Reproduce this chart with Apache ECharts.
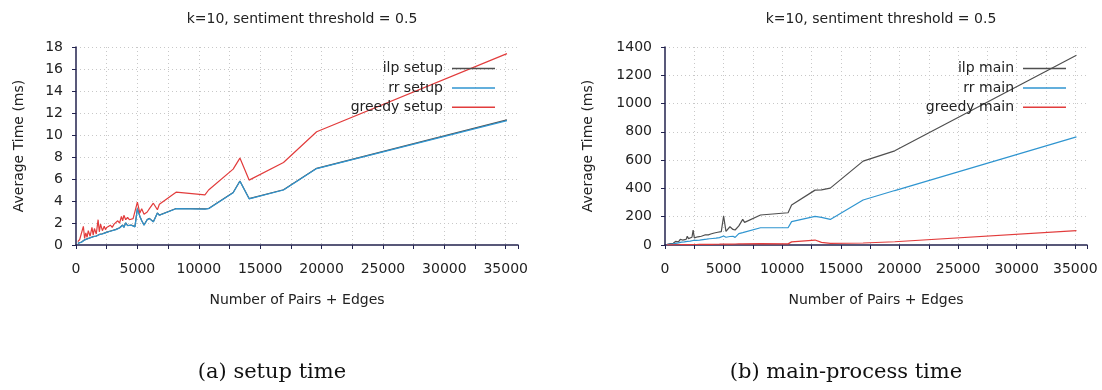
<!DOCTYPE html>
<html>
<head>
<meta charset="utf-8">
<script src="https://cdn.jsdelivr.net/npm/echarts@6/dist/echarts.min.js"></script>
<style>
  html, body { margin: 0; padding: 0; background: #ffffff; }
  #chart { width: 1102px; height: 390px; }
</style>
</head>
<body>
<div id="chart"></div>
<script>
// number of pairs + edges (shared by both panels)
const pairsEdges = [150, 300, 450, 600, 700, 800, 900, 1000, 1150, 1300,
  1400, 1500, 1650, 1800, 1900, 2000, 2150, 2300, 2400, 2500,
  2650, 2800, 2950, 3100, 3250, 3400, 3550, 3700, 3800, 3900,
  4050, 4200, 4350, 4500, 4650, 4800, 5000, 5200, 5350, 5540,
  5800, 5980, 6300, 6630, 6790, 8150, 10500, 10800, 12800, 13350,
  14100, 16900, 19600, 35100]

// (a) setup time, ms
const ilpSetup = [0.16, 0.31, 0.27, 0.41, 0.47, 0.36, 0.56, 0.52, 0.66, 0.57,
  0.76, 0.72, 0.82, 0.77, 0.96, 0.87, 1.02, 0.92, 1.12, 1.02,
  1.22, 1.12, 1.32, 1.22, 1.42, 1.37, 1.57, 1.47, 1.82, 1.62,
  2.02, 1.77, 1.92, 1.82, 1.87, 1.67, 3.32, 2.62, 2.22, 1.82,
  2.32, 2.42, 2.12, 2.92, 2.72, 3.32, 3.29, 3.32, 4.77, 5.82,
  4.22, 5.02, 6.97, 11.38]
const rrSetup = [0.15, 0.3, 0.25, 0.4, 0.45, 0.35, 0.55, 0.5, 0.65, 0.55,
  0.75, 0.7, 0.8, 0.75, 0.95, 0.85, 1.0, 0.9, 1.1, 1.0,
  1.2, 1.1, 1.3, 1.2, 1.4, 1.35, 1.55, 1.45, 1.8, 1.6,
  2.0, 1.75, 1.9, 1.8, 1.85, 1.65, 3.3, 2.6, 2.2, 1.8,
  2.3, 2.4, 2.1, 2.9, 2.7, 3.3, 3.27, 3.3, 4.75, 5.8,
  4.2, 5.0, 6.95, 11.3]
const greedySetup = [0.3, 0.5, 0.4, 1.7, 0.6, 1.1, 0.7, 1.3, 0.8, 1.6,
  0.9, 1.5, 1.0, 2.3, 1.2, 1.9, 1.3, 1.7, 1.4, 1.6,
  1.5, 1.8, 1.6, 1.9, 1.8, 2.2, 2.0, 2.6, 2.2, 2.7,
  2.3, 2.5, 2.3, 2.45, 2.4, 2.25, 3.9, 2.9, 3.3, 2.8,
  3.0, 3.3, 3.8, 3.2, 3.7, 4.8, 4.55, 5.0, 6.9, 7.9,
  5.9, 7.5, 10.3, 17.4]

// (b) main-process time, ms
const ilpMain = [3, 6, 10, 14, 12, 20, 25, 30, 22, 40,
  52, 35, 45, 40, 62, 45, 50, 55, 106, 50,
  60, 58, 65, 62, 68, 71, 75, 72, 80, 78,
  82, 85, 80, 90, 88, 94, 205, 96, 110, 129,
  110, 106, 135, 181, 160, 212, 228, 282, 388, 390,
  402, 593, 666, 1342]
const rrMain = [2, 4, 6, 8, 9, 10, 12, 14, 15, 18,
  20, 19, 22, 24, 26, 25, 28, 30, 32, 30,
  33, 35, 34, 37, 38, 38, 41, 42, 44, 43,
  46, 47, 48, 50, 52, 55, 64, 55, 62, 60,
  62, 54, 80, 87, 80, 122, 122, 165, 202, 195,
  181, 318, 385, 765]
const greedyMain = [0.5, 0.8, 1, 1.2, 1.1, 1.5, 1.6, 2, 1.8, 2.2,
  2.5, 2.3, 2.6, 2.8, 3, 2.9, 3.2, 3.3, 3.5, 3.4,
  3.6, 3.8, 3.9, 4, 4.2, 4.3, 4.5, 4.4, 4.7, 4.8,
  5, 5.1, 5.2, 5.4, 5.5, 5.6, 6, 6.2, 6.4, 6.5,
  6.8, 7, 7.3, 7.6, 7.8, 10, 8, 22, 35, 19,
  12, 14, 23, 101]

const titles = ['k=10, sentiment threshold = 0.5', 'k=10, sentiment threshold = 0.5']
const captions = ['(a) setup time', '(b) main-process time']
const setupNames = ['ilp setup', 'rr setup', 'greedy setup']
const mainNames = ['ilp main', 'rr main', 'greedy main']

const colors = ['#4f4f4f', '#2f95d0', '#e23c3c']
const font = 'DejaVu Sans'
const axisColor = '#22224e'

function pairs(ys) {
  return pairsEdges.map((x, i) => [x, ys[i]])
}

function xAxis(gridIndex) {
  return {
    type: 'value', gridIndex: gridIndex,
    min: 0, max: 36000, interval: 2500,
    name: 'Number of Pairs + Edges', nameLocation: 'middle', nameGap: 48,
    nameTextStyle: {fontFamily: font, fontSize: 14, color: '#222'},
    axisLine: {show: true, lineStyle: {color: axisColor, width: 1.5}},
    axisTick: {show: true, length: 4, lineStyle: {color: axisColor}},
    axisLabel: {
      fontFamily: font, fontSize: 14, color: '#222', margin: 17,
      formatter: v => (v % 5000 === 0 ? String(v) : '')
    },
    splitLine: {show: true, showMaxLine: false, showMinLine: false,
      lineStyle: {color: '#c8c8c8', type: [1, 3], width: 1}}
  }
}

function yAxis(gridIndex, max, interval, gap) {
  return {
    type: 'value', gridIndex: gridIndex,
    min: 0, max: max, interval: interval,
    name: 'Average Time (ms)', nameLocation: 'middle', nameGap: gap,
    nameTextStyle: {fontFamily: font, fontSize: 14, color: '#222'},
    axisLine: {show: true, lineStyle: {color: axisColor, width: 1.5}},
    axisTick: {show: true, length: 4, lineStyle: {color: axisColor}},
    axisLabel: {fontFamily: font, fontSize: 14, color: '#222', margin: 13,
      formatter: v => String(v)},
    splitLine: {show: true, showMinLine: false,
      lineStyle: {color: '#c8c8c8', type: [1, 3], width: 1}}
  }
}

function line(name, ys, idx, color) {
  return {
    name: name, type: 'line', xAxisIndex: idx, yAxisIndex: idx,
    data: pairs(ys), showSymbol: false, symbol: 'none',
    lineStyle: {color: color, width: 1.2}, itemStyle: {color: color},
    emphasis: {disabled: true}
  }
}

function legend(names, right) {
  return {
    data: names, orient: 'vertical', align: 'right',
    right: right, top: 56, icon: 'rect',
    itemWidth: 43, itemHeight: 1.5, itemGap: 4.4,
    textStyle: {fontFamily: font, fontSize: 14, color: '#222', lineHeight: 15, padding: [0, 4, 0, 0]}
  }
}

const chart = echarts.init(document.getElementById('chart'))

chart.setOption({
  animation: false,
  title: [
    {text: titles[0], left: 297, top: 7, textAlign: 'center',
      textStyle: {fontFamily: font, fontSize: 14, fontWeight: 'normal', color: '#222'}},
    {text: titles[1], left: 876, top: 7, textAlign: 'center',
      textStyle: {fontFamily: font, fontSize: 14, fontWeight: 'normal', color: '#222'}}
  ],
  legend: [legend(setupNames, 602), legend(mainNames, 31)],
  grid: [
    {left: 76, top: 47, width: 442, height: 198},
    {left: 665, top: 47, width: 422, height: 198}
  ],
  xAxis: [xAxis(0), xAxis(1)],
  yAxis: [yAxis(0, 18, 2, 50), yAxis(1, 1400, 200, 70)],
  series: [
    line(setupNames[0], ilpSetup, 0, colors[0]),
    line(setupNames[1], rrSetup, 0, colors[1]),
    line(setupNames[2], greedySetup, 0, colors[2]),
    line(mainNames[0], ilpMain, 1, colors[0]),
    line(mainNames[1], rrMain, 1, colors[1]),
    line(mainNames[2], greedyMain, 1, colors[2])
  ],
  graphic: [
    {type: 'text', x: 272, y: 373,
      style: {text: captions[0], fontFamily: 'DejaVu Serif', fontSize: 21, fill: '#111',
        align: 'center', verticalAlign: 'middle'}},
    {type: 'text', x: 846, y: 373,
      style: {text: captions[1], fontFamily: 'DejaVu Serif', fontSize: 21, fill: '#111',
        align: 'center', verticalAlign: 'middle'}}
  ]
})
</script>
</body>
</html>
